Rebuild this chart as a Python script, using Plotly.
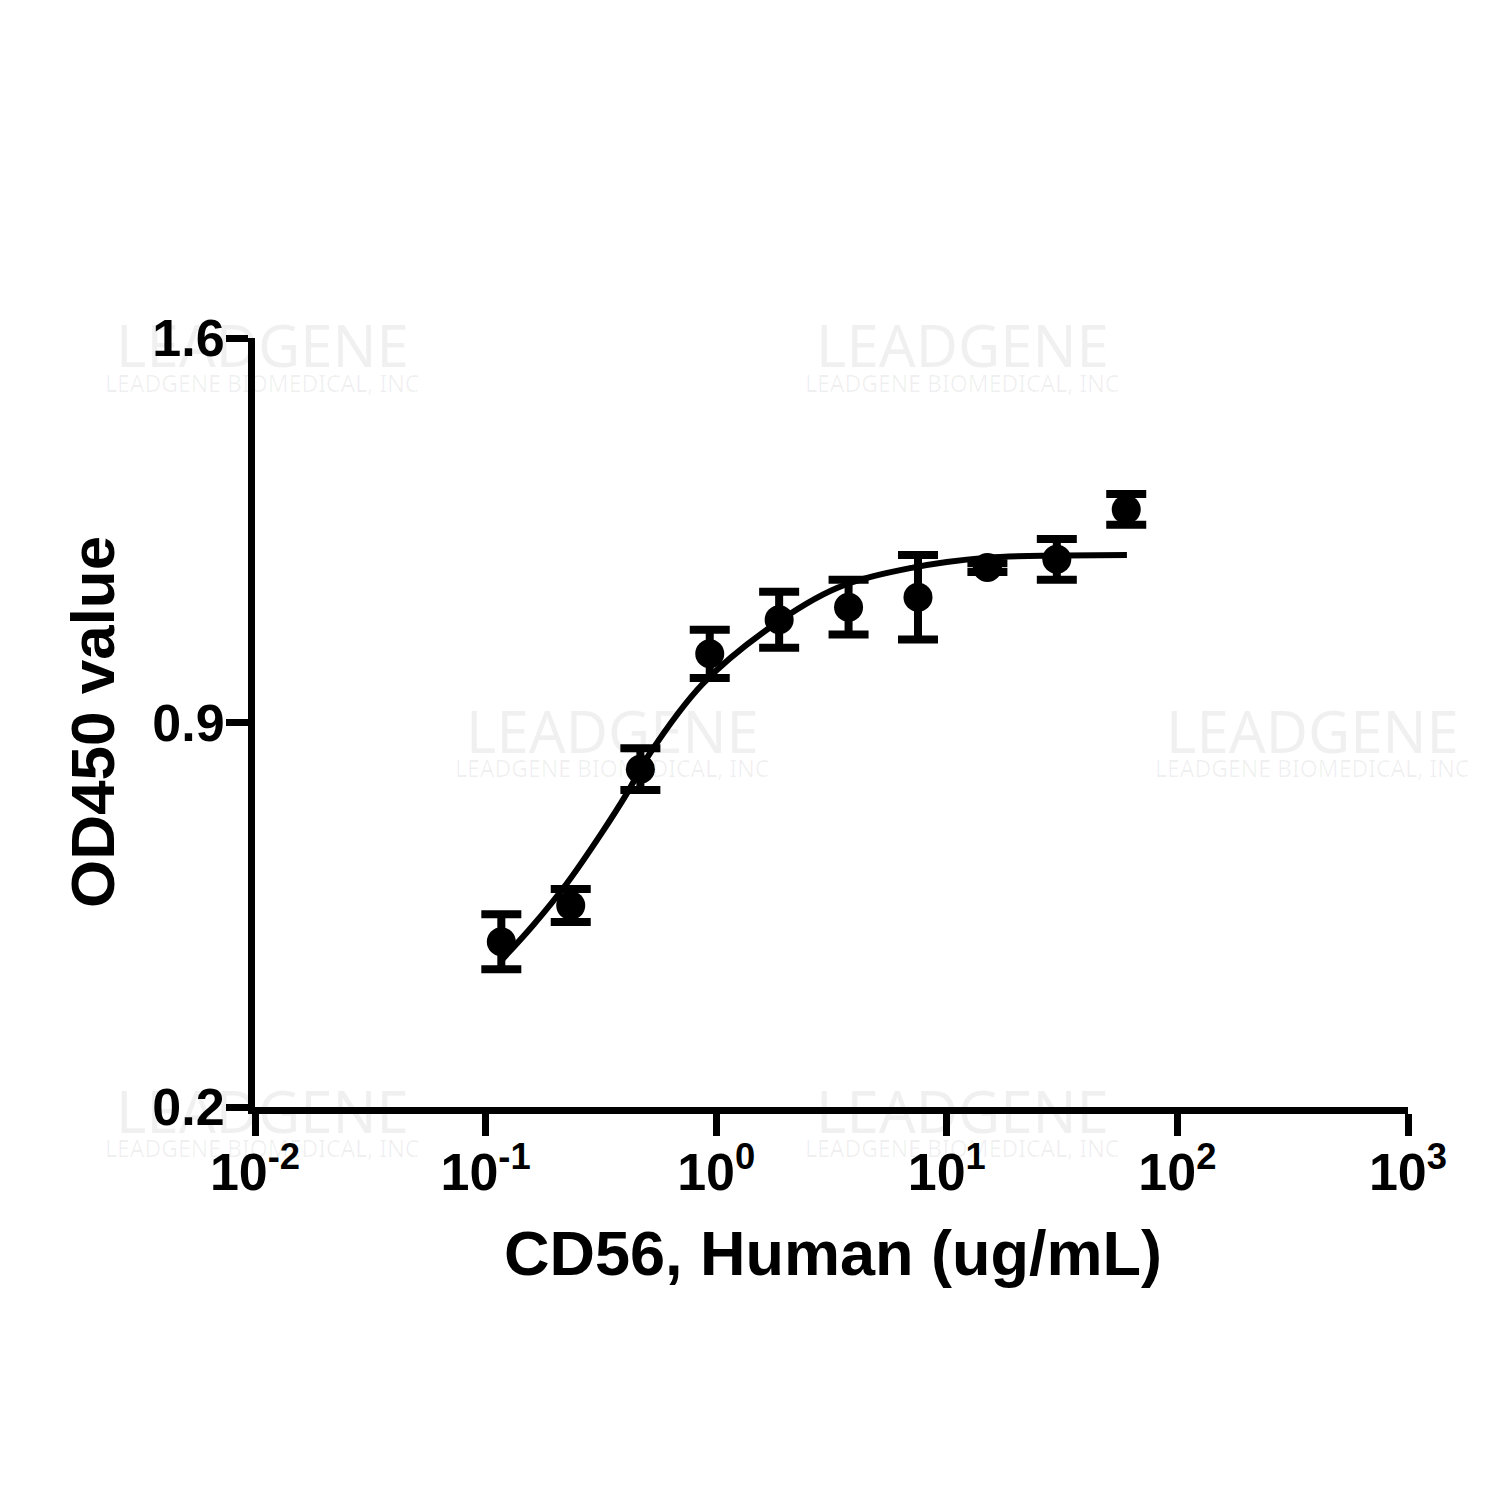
import plotly.graph_objects as go

# ---- data ----
conc = [0.117, 0.234, 0.469, 0.9375, 1.875, 3.75, 7.5, 15, 30, 60]
od_mean = [0.501, 0.567, 0.815, 1.025, 1.087, 1.110, 1.128, 1.182, 1.197, 1.288]
od_err = [0.050, 0.030, 0.038, 0.044, 0.051, 0.050, 0.077, 0.008, 0.037, 0.028]

fit_x = [0.117, 0.160, 0.225, 0.320, 0.410, 0.516, 0.877, 1.71, 3.34, 7.13, 14.9, 31.0, 60.4]
fit_y = [0.467, 0.530, 0.607, 0.700, 0.771, 0.844, 0.971, 1.073, 1.145, 1.182, 1.200, 1.204, 1.205]

y_ticks = [0.2, 0.9, 1.6]
y_ticktext = ["0.2", "0.9", "1.6"]
x_ticks = [0.01, 0.1, 1, 10, 100, 1000]
x_ticktext = ["10<sup>-2</sup>", "10<sup>-1</sup>", "10<sup>0</sup>",
              "10<sup>1</sup>", "10<sup>2</sup>", "10<sup>3</sup>"]

x_title = "CD56, Human (ug/mL)"
y_title = "OD450 value"

FONT = "Arial, Liberation Sans, sans-serif"

fig = go.Figure()

fig.add_trace(go.Scatter(
    x=fit_x, y=fit_y, mode="lines",
    line=dict(color="black", width=6, shape="spline", smoothing=1.0),
    hoverinfo="skip", showlegend=False, cliponaxis=False,
))

fig.add_trace(go.Scatter(
    x=conc, y=od_mean, mode="markers",
    marker=dict(color="black", size=29, symbol="circle"),
    error_y=dict(type="data", array=od_err, visible=True,
                 color="black", thickness=8, width=20),
    showlegend=False, cliponaxis=False,
))

# plot area geometry (target pixels in the page); page body has an 8px offset
OFF = 8
L, R, T, B = 255, 1408, 338, 1107
PW, PH = R - L, B - T


def px(xp, yp):
    return (xp - L) / PW, (B - yp) / PH


annotations = []

# faint watermarks
wm_centers = [(262, 345), (962, 345), (1662, 345),
              (612, 730), (1312, 730),
              (262, 1110), (962, 1110), (1662, 1110)]
for cx, cy in wm_centers:
    ax, ay = px(cx, cy)
    annotations.append(dict(
        x=ax, y=ay, xref="paper", yref="paper", text="LEADGENE",
        showarrow=False, xanchor="center", yanchor="middle",
        font=dict(family="Noto Sans, sans-serif", size=58, color="rgba(0,0,0,0.06)"),
    ))
    ax2, ay2 = px(cx, cy + 38)
    annotations.append(dict(
        x=ax2, y=ay2, xref="paper", yref="paper", text="LEADGENE BIOMEDICAL, INC",
        showarrow=False, xanchor="center", yanchor="middle",
        font=dict(family="Noto Sans, sans-serif", size=23, color="rgba(0,0,0,0.06)"),
    ))

# axis titles
ax_, ay_ = px(833, 1253)
annotations.append(dict(
    x=ax_, y=ay_, xref="paper", yref="paper", text=x_title, showarrow=False,
    xanchor="center", yanchor="middle",
    font=dict(family=FONT, size=63, color="black", weight="bold"),
))
ax_, ay_ = px(92, 722)
annotations.append(dict(
    x=ax_, y=ay_, xref="paper", yref="paper", text=y_title, showarrow=False,
    xanchor="center", yanchor="middle", textangle=-90,
    font=dict(family=FONT, size=62, color="black", weight="bold"),
))

fig.update_layout(
    width=1500, height=1500,
    margin=dict(l=L - OFF, r=1500 - R + OFF, t=T - OFF, b=1500 - B + OFF, pad=0),
    paper_bgcolor="white", plot_bgcolor="white",
    annotations=annotations,
    xaxis=dict(
        type="log", range=[-2, 3], showgrid=False, zeroline=False,
        showline=True, linecolor="black", linewidth=7,
        ticks="outside", ticklen=22, tickwidth=7, tickcolor="black",
        tickvals=x_ticks, ticktext=x_ticktext,
        tickfont=dict(family=FONT, size=52, color="black", weight="bold"),
        ticklabelstandoff=-8,
    ),
    yaxis=dict(
        range=[0.2, 1.6], showgrid=False, zeroline=False,
        showline=True, linecolor="black", linewidth=7,
        ticks="outside", ticklen=22, tickwidth=7, tickcolor="black",
        tickvals=y_ticks, ticktext=y_ticktext,
        tickfont=dict(family=FONT, size=52, color="black", weight="bold"),
        ticklabelstandoff=-9,
    ),
)

fig.write_html("out.html")
